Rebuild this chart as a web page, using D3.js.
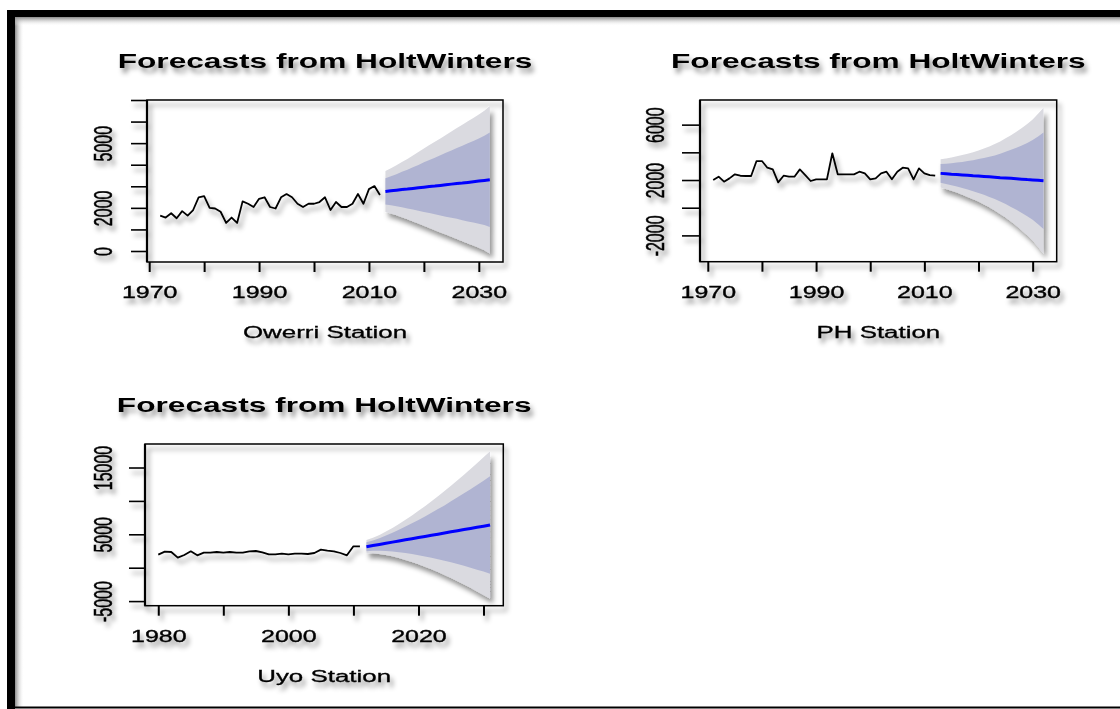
<!DOCTYPE html>
<html><head><meta charset="utf-8">
<script src="https://cdn.jsdelivr.net/npm/d3@7"></script>
<style>html,body{margin:0;padding:0;background:#fff;}svg{display:block;font-family:"Liberation Sans",Arial,sans-serif;}</style>
</head><body>
<svg id="chart" width="1120" height="709"></svg>
<script>
// ---------- DATA ----------
const chartTitle = "Forecasts from HoltWinters";

// Owerri Station
const owerriYears = d3.range(1972, 2013);
const owerriValues = [1640,1550,1750,1520,1850,1640,1900,2490,2540,2000,1970,1820,1300,1550,1300,2300,2190,2040,2420,2490,2040,1970,2490,2640,2490,2190,2040,2190,2190,2270,2490,1900,2270,2040,2040,2190,2640,2190,2870,3010,2600];
const owerriFcYears = d3.range(2013, 2033);
const owerriMean = [2760,2790,2820,2850,2870,2900,2930,2960,2990,3010,3040,3070,3100,3130,3150,3180,3210,3240,3270,3300];
const owerriHi95 = [3710,3840,3980,4130,4270,4430,4590,4750,4910,5060,5220,5380,5540,5700,5850,6010,6170,6330,6500,6720];
const owerriLo95 = [1810,1740,1660,1570,1470,1370,1270,1170,1070,960,860,760,660,560,450,350,250,150,40,-120];
const owerriHi80 = [3370,3460,3560,3670,3770,3880,3990,4110,4220,4320,4440,4550,4660,4770,4880,4990,5100,5220,5340,5490];
const owerriLo80 = [2150,2120,2080,2030,1970,1920,1870,1810,1760,1700,1640,1590,1540,1490,1420,1370,1320,1260,1200,1110];
const owerriYTicks = [0,1000,2000,3000,4000,5000,6000,7000];
const owerriYLabels = [0,2000,5000];
const owerriXTicks = [1970,1980,1990,2000,2010,2020,2030];
const owerriXLabels = [1970,1990,2010,2030];

// PH Station
const phYears = d3.range(1971, 2013);
const phValues = [2000,2240,1880,2120,2410,2310,2290,2290,3370,3370,2890,2770,1830,2310,2240,2240,2770,2360,1930,2050,2050,2050,3930,2410,2410,2410,2410,2600,2480,2050,2120,2480,2600,2050,2600,2890,2840,2050,2840,2480,2360,2310];
const phFcYears = d3.range(2013, 2033);
const phMean = [2480,2450,2420,2400,2370,2340,2310,2290,2260,2230,2200,2170,2150,2120,2090,2060,2030,2010,1980,1950];
const phHi95 = [3500,3550,3620,3710,3800,3900,4010,4140,4280,4430,4600,4790,5010,5240,5490,5760,6050,6380,6780,7220];
const phLo95 = [1460,1350,1220,1090,940,780,610,440,240,30,-200,-450,-710,-1000,-1310,-1640,-1990,-2360,-2820,-3320];
const phHi80 = [3150,3180,3210,3260,3310,3370,3430,3510,3590,3680,3780,3900,4040,4180,4330,4500,4680,4890,5150,5430];
const phLo80 = [1810,1720,1630,1540,1430,1310,1190,1070,930,780,620,440,260,60,-150,-380,-620,-870,-1190,-1530];
const phYTicks = [-2000,0,2000,4000,6000];
const phYLabels = [-2000,2000,6000];
const phXTicks = [1970,1980,1990,2000,2010,2020,2030];
const phXLabels = [1970,1990,2010,2030];

// Uyo Station
const uyoYears = d3.range(1980, 2012);
const uyoValues = [1950,2400,2350,1500,1900,2450,1850,2250,2250,2350,2250,2350,2250,2250,2450,2500,2300,2000,2000,2100,2000,2100,2100,2050,2200,2700,2550,2450,2200,1850,3200,3200];
const uyoFcYears = d3.range(2012, 2032);
const uyoMean = [3140,3310,3480,3650,3830,4000,4170,4340,4510,4680,4850,5020,5190,5370,5540,5710,5880,6050,6220,6390];
const uyoHi95 = [4140,4470,4910,5410,5960,6550,7170,7820,8510,9210,9940,10700,11470,12280,13100,13920,14780,15650,16530,17440];
const uyoLo95 = [2140,2150,2050,1890,1700,1450,1170,860,510,150,-240,-660,-1090,-1540,-2020,-2500,-3020,-3550,-4090,-4660];
const uyoHi80 = [3800,4080,4420,4810,5240,5680,6150,6640,7150,7670,8210,8770,9330,9930,10530,11130,11750,12390,13020,13680];
const uyoLo80 = [2480,2540,2540,2490,2420,2320,2190,2040,1870,1690,1490,1270,1050,810,550,290,10,-290,-580,-900];
const uyoYTicks = [-5000,0,5000,10000,15000];
const uyoYLabels = [-5000,5000,15000];
const uyoXTicks = [1980,1990,2000,2010,2020,2030];
const uyoXLabels = [1980,2000,2020];

// ---------- DRAW ----------
const svg = d3.select("#chart");
const defs = svg.append("defs");
const f = defs.append("filter").attr("id","shadow").attr("x","-20%").attr("y","-20%").attr("width","150%").attr("height","160%");
f.append("feDropShadow").attr("dx",3).attr("dy",5).attr("stdDeviation",2.4).attr("flood-color","#000").attr("flood-opacity",0.42);
const gl = defs.append("linearGradient").attr("id","gl").attr("x1",0).attr("x2",1).attr("y1",0).attr("y2",0);
gl.append("stop").attr("offset",0).attr("stop-color","#8a8a8a");
gl.append("stop").attr("offset",1).attr("stop-color","#fff").attr("stop-opacity",0);
const gt = defs.append("linearGradient").attr("id","gt").attr("x1",0).attr("x2",0).attr("y1",0).attr("y2",1);
gt.append("stop").attr("offset",0).attr("stop-color","#8a8a8a");
gt.append("stop").attr("offset",1).attr("stop-color","#fff").attr("stop-opacity",0);

svg.append("rect").attr("width",1120).attr("height",709).attr("fill","#fff");

// frame
svg.append("rect").attr("x",15).attr("y",17).attr("width",9).attr("height",690).attr("fill","url(#gl)");
svg.append("rect").attr("x",15).attr("y",17).attr("width",1105).attr("height",9).attr("fill","url(#gt)");
svg.append("rect").attr("x",7).attr("y",10).attr("width",1113).attr("height",7).attr("fill","#000");
svg.append("rect").attr("x",7).attr("y",10).attr("width",8).attr("height",699).attr("fill","#000");
svg.append("line").attr("x1",7).attr("x2",1120).attr("y1",707.5).attr("y2",707.5).attr("stroke","#000").attr("stroke-width",2);

const SX = 1.56;
const FONT = "Liberation Sans, Arial, sans-serif";

function panel(cfg) {
  const {box} = cfg;
  const x = d3.scaleLinear().domain(cfg.xDomain).range([box.x0, box.x1]);
  const y = d3.scaleLinear().domain(cfg.yDomain).range([box.y1, box.y0]);
  const g = svg.append("g").attr("filter","url(#shadow)");

  const fc = cfg.fcYears.map((yr,i)=>({yr, m:cfg.mean[i], h95:cfg.hi95[i], l95:cfg.lo95[i], h80:cfg.hi80[i], l80:cfg.lo80[i]}));
  g.append("path").datum(fc).attr("fill","#dadae0")
    .attr("d", d3.area().x(d=>x(d.yr)).y0(d=>y(d.l95)).y1(d=>y(d.h95)));
  g.append("path").datum(fc).attr("fill","#b0b4d2")
    .attr("d", d3.area().x(d=>x(d.yr)).y0(d=>y(d.l80)).y1(d=>y(d.h80)));
  g.append("path").datum(fc).attr("fill","none").attr("stroke","#0000ff").attr("stroke-width",3)
    .attr("d", d3.line().x(d=>x(d.yr)).y(d=>y(d.m)));

  const obs = cfg.years.map((yr,i)=>({yr, v:cfg.values[i]}));
  g.append("path").datum(obs).attr("fill","none").attr("stroke","#000").attr("stroke-width",1.8)
    .attr("stroke-linejoin","round")
    .attr("d", d3.line().x(d=>x(d.yr)).y(d=>y(d.v)));

  g.append("rect").attr("x",box.x0).attr("y",box.y0).attr("width",box.x1-box.x0).attr("height",box.y1-box.y0)
    .attr("fill","none").attr("stroke","#000").attr("stroke-width",1.5);
  g.append("line").attr("x1",box.x0).attr("x2",box.x0).attr("y1",box.y0).attr("y2",box.y1).attr("stroke","#000").attr("stroke-width",2.2);

  // y axis
  const ya = g.append("g").attr("transform",`translate(${box.x0},0)`)
    .call(d3.axisLeft(y).tickValues(cfg.yTicks).tickSize(cfg.yTickLen).tickSizeOuter(0)
      .tickFormat(d => cfg.yLabels.includes(d) ? String(d) : ""));
  ya.attr("font-family", FONT).attr("font-size", 16);
  ya.select(".domain").remove();
  ya.selectAll(".tick line").attr("stroke","#000").attr("stroke-width",1.6);
  ya.selectAll(".tick text").attr("x",null).attr("dy",null).attr("fill","#000")
    .attr("stroke","#000").attr("stroke-width",0.35)
    .attr("font-size",16).attr("font-family",FONT)
    .attr("text-anchor","middle")
    .attr("transform",`translate(${-cfg.yLabOff},0) scale(${SX},1) rotate(-90)`);

  // x axis
  const xa = g.append("g").attr("transform",`translate(0,${box.y1})`)
    .call(d3.axisBottom(x).tickValues(cfg.xTicks).tickSize(10).tickSizeOuter(0)
      .tickFormat(d => cfg.xLabels.includes(d) ? String(d) : ""));
  xa.attr("font-family", FONT).attr("font-size", 16);
  xa.select(".domain").remove();
  xa.selectAll(".tick line").attr("stroke","#000").attr("stroke-width",2);
  xa.selectAll(".tick text").attr("y",null).attr("dy",null).attr("fill","#000")
    .attr("stroke","#000").attr("stroke-width",0.35)
    .attr("font-size",16).attr("font-family",FONT)
    .attr("text-anchor","middle")
    .attr("transform",`translate(0,36) scale(${SX},1)`);

  const cx = (box.x0+box.x1)/2;
  g.append("text").attr("text-anchor","middle").attr("font-weight","bold").attr("font-size",20.3)
    .attr("font-family",FONT)
    .attr("transform",`translate(${cx},${box.y0-32}) scale(${SX},1)`).text(chartTitle);
  g.append("text").attr("text-anchor","middle").attr("font-size",16.6).attr("font-family",FONT)
    .attr("stroke","#000").attr("stroke-width",0.3)
    .attr("transform",`translate(${cx},${box.y1+76}) scale(${SX},1)`).text(cfg.sub);
}

panel({box:{x0:147,x1:503,y0:100,y1:262}, xDomain:[1969.6,2034.4], yDomain:[-510,7000],
  years:owerriYears, values:owerriValues, fcYears:owerriFcYears, mean:owerriMean,
  hi95:owerriHi95, lo95:owerriLo95, hi80:owerriHi80, lo80:owerriLo80,
  yTicks:owerriYTicks, yLabels:owerriYLabels, xTicks:owerriXTicks, xLabels:owerriXLabels,
  yTickLen:16, yLabOff:35, sub:"Owerri Station"});

panel({box:{x0:700,x1:1056.7,y0:100,y1:261.7}, xDomain:[1968.56,2034.44], yDomain:[-3900,7780],
  years:phYears, values:phValues, fcYears:phFcYears, mean:phMean,
  hi95:phHi95, lo95:phLo95, hi80:phHi80, lo80:phLo80,
  yTicks:phYTicks, yLabels:phYLabels, xTicks:phXTicks, xLabels:phXLabels,
  yTickLen:18, yLabOff:36, sub:"PH Station"});

panel({box:{x0:145,x1:503.3,y0:444,y1:605.7}, xDomain:[1977.96,2033.04], yDomain:[-5690,18520],
  years:uyoYears, values:uyoValues, fcYears:uyoFcYears, mean:uyoMean,
  hi95:uyoHi95, lo95:uyoLo95, hi80:uyoHi80, lo80:uyoLo80,
  yTicks:uyoYTicks, yLabels:uyoYLabels, xTicks:uyoXTicks, xLabels:uyoXLabels,
  yTickLen:16, yLabOff:33, sub:"Uyo Station"});
</script>
</body></html>
